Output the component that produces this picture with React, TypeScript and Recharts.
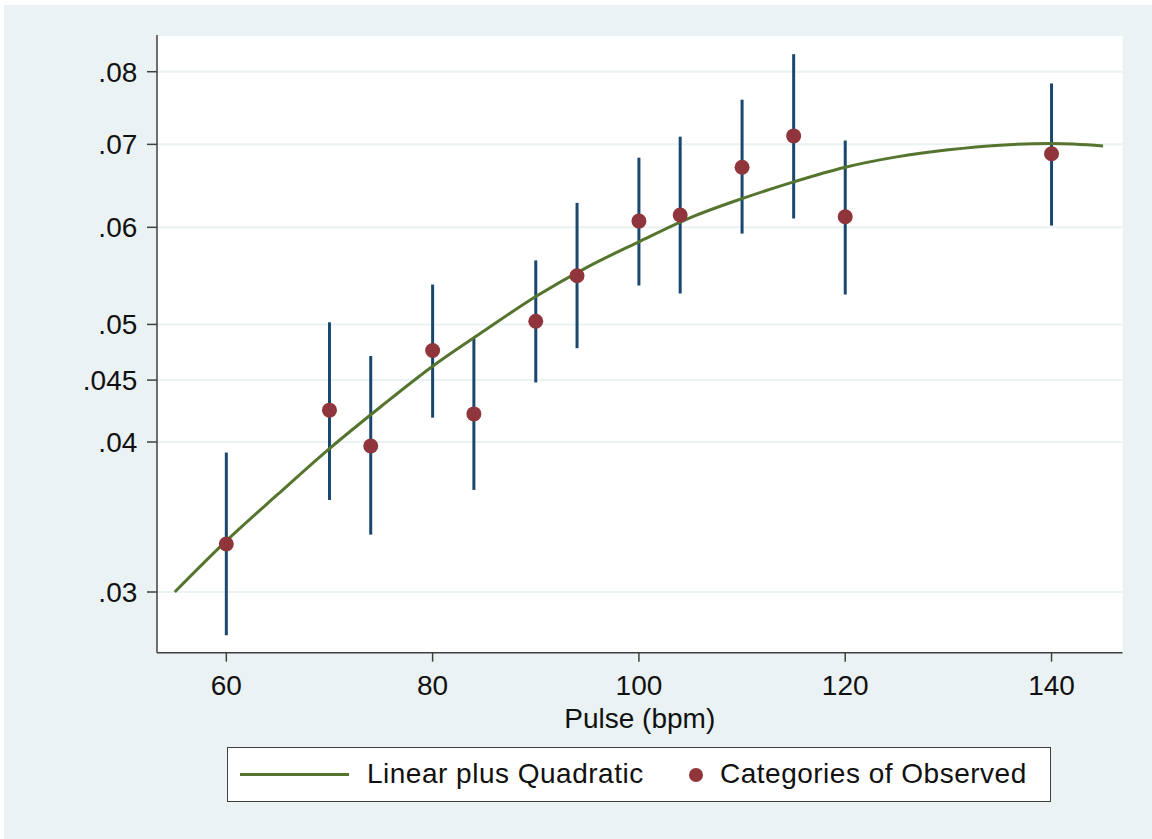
import React from "react";
import {
  ComposedChart,
  Line,
  Scatter,
  ErrorBar,
  XAxis,
  YAxis,
  CartesianGrid,
  Legend,
} from "recharts";

// observed categories (pulse bpm) with proportion and 95% CI
const pulse = [60, 70, 74, 80, 84, 90, 94, 100, 104, 110, 115, 120, 140];
const observed = [0.0329, 0.0425, 0.0397, 0.0476, 0.0422, 0.0503, 0.0548, 0.0607, 0.0614, 0.0671, 0.0711, 0.0612, 0.0688];
const ciLow = [0.0276, 0.0358, 0.0335, 0.0419, 0.0365, 0.0448, 0.0478, 0.0538, 0.053, 0.0593, 0.061, 0.0529, 0.0602];
const ciHigh = [0.0392, 0.0502, 0.0471, 0.0539, 0.0487, 0.0564, 0.0628, 0.0683, 0.071, 0.076, 0.0826, 0.0705, 0.0783];

// fitted curve
const fitPulse = [55, 60, 65, 70, 75, 80, 85, 90, 95, 100, 105, 110, 115, 120, 125, 130, 135, 140, 145];
const fitted = [0.03, 0.0331, 0.0362, 0.0395, 0.0428, 0.0462, 0.0494, 0.0527, 0.0557, 0.0584, 0.0611, 0.0633, 0.0653, 0.0671, 0.0684, 0.0693, 0.0699, 0.0701, 0.0698];

const xTicks = [60, 80, 100, 120, 140];
const yTickValues = [0.03, 0.04, 0.045, 0.05, 0.06, 0.07, 0.08];
const yTickLabels = [".03", ".04", ".045", ".05", ".06", ".07", ".08"];

const logit = (p: number) => Math.log(p / (1 - p));

const obsData = pulse.map((x, i) => {
  const ly = logit(observed[i]);
  return { x, ly, err: [ly - logit(ciLow[i]), logit(ciHigh[i]) - ly] };
});
const fitData = fitPulse.map((x, i) => ({ x, ly: logit(fitted[i]) }));
const yTicks = yTickValues.map(logit);

const FONT = "'Liberation Sans', Arial, Helvetica, sans-serif";
const GREEN = "#55752f";
const MAROON = "#90353b";
const NAVY = "#1a476f";
const AXIS = "#404040";

const formatY = (v: number) => {
  const i = yTicks.findIndex((t) => Math.abs(t - v) < 1e-6);
  return i >= 0 ? yTickLabels[i] : "";
};

function LegendBox() {
  return (
    <div
      style={{
        position: "relative",
        width: 824,
        height: 55,
        boxSizing: "border-box",
        border: `1.5px solid ${AXIS}`,
        background: "#ffffff",
        fontFamily: FONT,
        fontSize: 28,
        letterSpacing: 0.5,
        color: "#111",
      }}
    >
      <div style={{ position: "absolute", left: 12, top: 25, width: 109, height: 3, background: GREEN }} />
      <div style={{ position: "absolute", left: 139, top: 9, lineHeight: "34px" }}>Linear plus Quadratic</div>
      <div style={{ position: "absolute", left: 461, top: 20, width: 14, height: 14, borderRadius: 7, background: MAROON }} />
      <div style={{ position: "absolute", left: 492, top: 9, lineHeight: "34px" }}>Categories of Observed</div>
    </div>
  );
}

export default function App() {
  return (
    <div style={{ position: "absolute", left: 0, top: 0, width: 1152, height: 839, background: "#ffffff" }}>
      <div style={{ position: "absolute", left: 4, top: 5, right: 0, bottom: 0, background: "#eaf2f3" }} />
      <div style={{ position: "absolute", left: 0, top: 0 }}>
        <ComposedChart
          width={1152}
          height={839}
          margin={{ top: 35, right: 29.5, bottom: 106.3, left: 0 }}
          style={{ fontFamily: FONT }}
        >
          <CartesianGrid
            vertical={false}
            stroke="#eaf2f3"
            strokeWidth={2}
            fill="#ffffff"
            fillOpacity={1}
          />
          <XAxis
            dataKey="x"
            type="number"
            domain={[53.28, 146.88]}
            ticks={xTicks}
            allowDataOverflow
            height={80}
            tickSize={9}
            tickMargin={13}
            tick={{ fill: "#111", fontSize: 28 }}
            stroke={AXIS}
            strokeWidth={1.5}
            label={{ value: "Pulse (bpm)", position: "insideBottom", offset: 5, fill: "#111", fontSize: 28 }}
          />
          <YAxis
            dataKey="ly"
            type="number"
            domain={[-3.5967, -2.3694]}
            ticks={yTicks}
            allowDataOverflow
            width={157}
            tickSize={10}
            tickMargin={9.7}
            tickFormatter={formatY}
            tick={{ fill: "#111", fontSize: 28 }}
            stroke={AXIS}
            strokeWidth={1.5}
          />
          <Scatter
            name="Categories of Observed"
            data={obsData}
            dataKey="ly"
            fill={MAROON}
            isAnimationActive={false}
            shape={(props: any) => <circle cx={props.cx} cy={props.cy} r={7.5} fill={MAROON} />}
          >
            <ErrorBar dataKey="err" direction="y" width={0} stroke={NAVY} strokeWidth={3} isAnimationActive={false} />
          </Scatter>
          <Line
            name="Linear plus Quadratic"
            data={fitData}
            dataKey="ly"
            type="monotone"
            stroke={GREEN}
            strokeWidth={3}
            dot={false}
            activeDot={false}
            isAnimationActive={false}
          />
          <Legend
            layout="horizontal"
            verticalAlign="middle"
            align="center"
            wrapperStyle={{ left: 227, top: 747, width: 824, height: 55 }}
            content={() => <LegendBox />}
          />
        </ComposedChart>
      </div>
    </div>
  );
}
